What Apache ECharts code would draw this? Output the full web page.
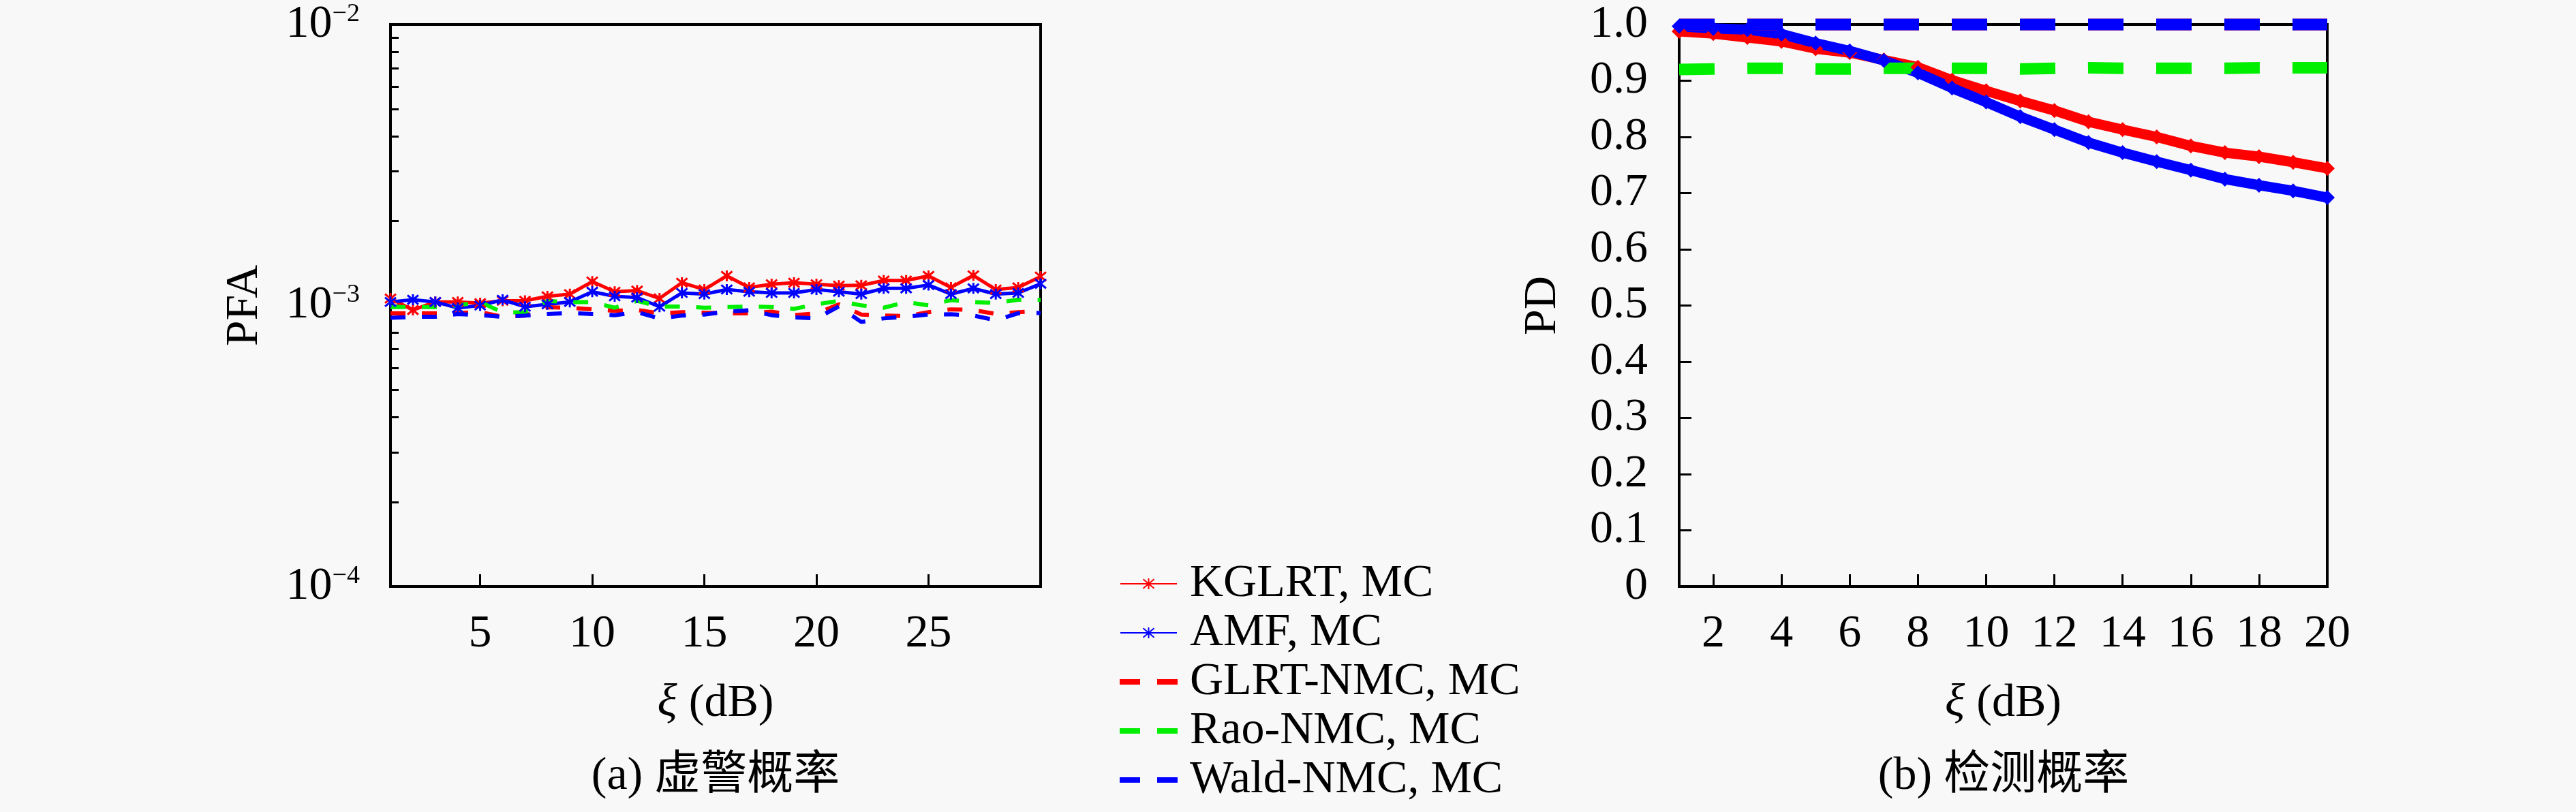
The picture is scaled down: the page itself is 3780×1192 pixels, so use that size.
<!DOCTYPE html>
<html>
<head>
<meta charset="utf-8">
<title>PFA / PD</title>
<script src="https://cdn.jsdelivr.net/npm/echarts@6/dist/echarts.min.js"></script>
<style>
html, body { margin: 0; padding: 0; background: #f8f8f8; }
#main { width: 3780px; height: 1192px; }
</style>
</head>
<body>
<div id="main"></div>
<script>
// ---- data: (a) false alarm probability ----
var snrA = [1, 2, 3, 4, 5, 6, 7, 8, 9, 10, 11, 12, 13, 14, 15, 16, 17, 18, 19, 20, 21, 22, 23, 24, 25, 26, 27, 28, 29, 30];
var pfaKGLRT = [1.059e-3, 0.964e-3, 1.03e-3, 1.03e-3, 1.02e-3, 1.04e-3, 1.04e-3, 1.078e-3, 1.098e-3, 1.217e-3,
  1.12e-3, 1.13e-3, 1.06e-3, 1.206e-3, 1.14e-3, 1.275e-3, 1.16e-3, 1.19e-3, 1.205e-3, 1.19e-3,
  1.177e-3, 1.18e-3, 1.228e-3, 1.228e-3, 1.275e-3, 1.16e-3, 1.28e-3, 1.14e-3, 1.16e-3, 1.268e-3];
var pfaAMF = [1.03e-3, 1.048e-3, 1.03e-3, 0.98e-3, 1.0e-3, 1.048e-3, 0.99e-3, 1.01e-3, 1.03e-3, 1.12e-3,
  1.078e-3, 1.068e-3, 0.99e-3, 1.109e-3, 1.098e-3, 1.14e-3, 1.12e-3, 1.109e-3, 1.109e-3, 1.14e-3,
  1.12e-3, 1.098e-3, 1.151e-3, 1.151e-3, 1.183e-3, 1.098e-3, 1.151e-3, 1.098e-3, 1.109e-3, 1.195e-3];
var pfaGLRTNMC = [0.938e-3, 0.938e-3, 0.938e-3, 0.941e-3, 0.947e-3, 0.912e-3, 0.921e-3, 0.986e-3, 0.982e-3, 0.969e-3,
  0.958e-3, 0.964e-3, 0.938e-3, 0.947e-3, 0.943e-3, 0.938e-3, 0.938e-3, 0.951e-3, 0.924e-3, 0.938e-3,
  1.01e-3, 0.929e-3, 0.921e-3, 0.917e-3, 0.947e-3, 0.969e-3, 0.964e-3, 0.933e-3, 0.947e-3, 0.955e-3];
var pfaRaoNMC = [0.988e-3, 0.988e-3, 0.988e-3, 1.001e-3, 1.029e-3, 0.945e-3, 0.947e-3, 1.039e-3, 1.029e-3, 1.029e-3,
  0.982e-3, 1.039e-3, 0.992e-3, 0.992e-3, 0.982e-3, 0.988e-3, 0.992e-3, 0.988e-3, 0.973e-3, 1.01e-3,
  1.039e-3, 1.001e-3, 0.982e-3, 1.029e-3, 1.001e-3, 1.045e-3, 1.029e-3, 1.02e-3, 1.049e-3, 1.049e-3];
var pfaWaldNMC = [0.904e-3, 0.911e-3, 0.912e-3, 0.933e-3, 0.924e-3, 0.912e-3, 0.921e-3, 0.933e-3, 0.941e-3, 0.933e-3,
  0.924e-3, 0.947e-3, 0.9e-3, 0.921e-3, 0.929e-3, 0.951e-3, 0.962e-3, 0.924e-3, 0.907e-3, 0.9e-3,
  0.992e-3, 0.874e-3, 0.9e-3, 0.912e-3, 0.929e-3, 0.931e-3, 0.921e-3, 0.887e-3, 0.938e-3, 0.941e-3];

// ---- data: (b) detection probability ----
var snrB = [1, 2, 3, 4, 5, 6, 7, 8, 9, 10, 11, 12, 13, 14, 15, 16, 17, 18, 19, 20];
var pdKGLRT = [0.988, 0.984, 0.977, 0.97, 0.957, 0.95, 0.937, 0.924, 0.901, 0.882,
  0.864, 0.847, 0.827, 0.813, 0.8, 0.784, 0.772, 0.765, 0.755, 0.744];
var pdAMF = [0.997, 0.993, 0.991, 0.983, 0.967, 0.953, 0.936, 0.914, 0.887, 0.862,
  0.836, 0.813, 0.79, 0.772, 0.756, 0.741, 0.725, 0.714, 0.704, 0.692];
var pdGLRTNMC = [1, 1, 1, 1, 1, 1, 1, 1, 1, 1, 1, 1, 1, 1, 1, 1, 1, 1, 1, 1];
var pdRaoNMC = [0.92, 0.921, 0.922, 0.922, 0.921, 0.921, 0.922, 0.922, 0.922, 0.922,
  0.921, 0.922, 0.923, 0.922, 0.922, 0.922, 0.922, 0.923, 0.923, 0.923];
var pdWaldNMC = [1, 1, 1, 1, 1, 1, 1, 1, 1, 1, 1, 1, 1, 1, 1, 1, 1, 1, 1, 1];

// ---- names / ticks ----
var names = ['KGLRT, MC', 'AMF, MC', 'GLRT-NMC, MC', 'Rao-NMC, MC', 'Wald-NMC, MC'];
var dashedNames = ['GLRT-NMC, MC', 'Rao-NMC, MC', 'Wald-NMC, MC'];
var xTicksA = [5, 10, 15, 20, 25];
var xTicksB = [2, 4, 6, 8, 10, 12, 14, 16, 18, 20];
var pfaLabels = [1e-4, 1e-3, 1e-2];
var pfaTicks = [1e-4, 2e-4, 3e-4, 4e-4, 5e-4, 6e-4, 7e-4, 8e-4, 9e-4,
  1e-3, 2e-3, 3e-3, 4e-3, 5e-3, 6e-3, 7e-3, 8e-3, 9e-3, 1e-2];

var FONT = '"Liberation Serif", "DejaVu Serif", "Noto Sans CJK SC", serif';
var FS = 68;
var RED = '#ff0000', BLUE = '#0000ff', GREEN = '#00ee00';
var STAR = 'path://M0,0L10,10M10,0L0,10M5,-1L5,11';
var DASH_ICON = 'path://M0,0H28V6H0ZM55,0H83V6H55Z';

function pairs(xs, ys) {
  return xs.map(function (x, i) { return [x, ys[i]]; });
}

var axisLine = { show: true, lineStyle: { color: '#000', width: 4 } };
var tickStyle = { color: '#000', width: 3 };
var labelStyle = { color: '#000', fontSize: FS, fontFamily: FONT };
var nameStyle = {
  color: '#000', fontSize: FS, fontFamily: FONT,
  rich: { i: { fontStyle: 'italic', fontSize: FS, fontFamily: FONT } }
};

var chart = echarts.init(document.getElementById('main'));

function lineA(name, data, color, dashed) {
  var s = {
    name: name, type: 'line', xAxisIndex: 0, yAxisIndex: 0,
    data: pairs(snrA, data), animation: false,
    lineStyle: { color: color, width: dashed ? 6 : 5, type: dashed ? [22, 24] : 'solid' },
    itemStyle: { color: color, borderColor: color, borderWidth: 3 }
  };
  if (dashed) {
    s.symbol = 'none';
  } else {
    s.symbol = STAR;
    s.symbolSize = 16;
    s.itemStyle.color = 'rgba(0,0,0,0)';
  }
  return s;
}

function lineB(name, data, color, dashed) {
  var s = {
    name: name, type: 'line', xAxisIndex: 1, yAxisIndex: 1,
    data: pairs(snrB, data), animation: false, clip: false,
    lineStyle: { color: color, width: dashed ? 17 : 15, type: dashed ? [52, 48] : 'solid' },
    itemStyle: { color: color }
  };
  if (dashed) {
    s.symbol = 'none';
  } else {
    s.symbol = 'diamond';
    s.symbolSize = 22;
  }
  return s;
}

var legendData = names.map(function (n) {
  return dashedNames.indexOf(n) >= 0 ? { name: n, icon: DASH_ICON } : { name: n };
});

var option = {
  backgroundColor: '#f8f8f8',
  textStyle: { fontFamily: FONT },
  grid: [
    { left: 573, top: 36, width: 954, height: 825, show: true, borderColor: '#000', borderWidth: 4, backgroundColor: 'rgba(0,0,0,0)' },
    { left: 2464, top: 36, width: 951, height: 825, show: true, borderColor: '#000', borderWidth: 4, backgroundColor: 'rgba(0,0,0,0)' }
  ],
  legend: {
    data: legendData,
    orient: 'vertical',
    left: 1638, top: 818,
    itemWidth: 83, itemHeight: 20, itemGap: 4,
    textStyle: { color: '#000', fontSize: FS, fontFamily: FONT, lineHeight: 68, padding: [0, 0, 0, 14] },
    selectedMode: false
  },
  xAxis: [
    {
      gridIndex: 0, type: 'value', min: 1, max: 30,
      name: '{i|ξ} (dB)', nameLocation: 'middle', nameGap: 138, nameTextStyle: nameStyle,
      axisLine: axisLine,
      axisTick: { inside: true, length: 18, customValues: xTicksA, lineStyle: tickStyle },
      axisLabel: Object.assign({ margin: 36, customValues: xTicksA }, labelStyle),
      splitLine: { show: false }
    },
    {
      gridIndex: 1, type: 'value', min: 1, max: 20,
      name: '{i|ξ} (dB)', nameLocation: 'middle', nameGap: 138, nameTextStyle: nameStyle,
      axisLine: axisLine,
      axisTick: { inside: true, length: 18, customValues: xTicksB, lineStyle: tickStyle },
      axisLabel: Object.assign({ margin: 36, customValues: xTicksB }, labelStyle),
      splitLine: { show: false }
    }
  ],
  yAxis: [
    {
      gridIndex: 0, type: 'log', logBase: 10, min: 1e-4, max: 1e-2,
      name: 'PFA', nameLocation: 'middle', nameGap: 180, nameTextStyle: nameStyle,
      axisLine: axisLine,
      axisTick: { inside: true, length: 12, customValues: pfaTicks, lineStyle: tickStyle },
      axisLabel: {
        margin: 45, customValues: pfaLabels,
        formatter: function (v) {
          var e = Math.round(Math.log(v) / Math.LN10);
          return '{b|10}{s|\u2212' + Math.abs(e) + '}';
        },
        rich: {
          b: { fontSize: FS, lineHeight: FS, fontFamily: FONT, color: '#000' },
          s: { fontSize: 38, lineHeight: 38, fontFamily: FONT, color: '#000', verticalAlign: 'top' }
        }
      },
      splitLine: { show: false }
    },
    {
      gridIndex: 1, type: 'value', min: 0, max: 1, interval: 0.1,
      name: 'PD', nameLocation: 'middle', nameGap: 166, nameTextStyle: nameStyle,
      axisLine: axisLine,
      axisTick: { inside: true, length: 18, lineStyle: tickStyle },
      axisLabel: Object.assign({
        margin: 46,
        formatter: function (v) { return v === 0 ? '0' : v.toFixed(1); }
      }, labelStyle),
      splitLine: { show: false }
    }
  ],
  graphic: [
    { type: 'text', x: 1050, y: 1140, style: { text: '(a) 虚警概率', font: FS + 'px ' + FONT, fill: '#000', align: 'center', verticalAlign: 'middle' } },
    { type: 'text', x: 2940, y: 1140, style: { text: '(b) 检测概率', font: FS + 'px ' + FONT, fill: '#000', align: 'center', verticalAlign: 'middle' } }
  ],
  series: [
    lineA(names[0], pfaKGLRT, RED, false),
    lineA(names[1], pfaAMF, BLUE, false),
    lineA(names[2], pfaGLRTNMC, RED, true),
    lineA(names[3], pfaRaoNMC, GREEN, true),
    lineA(names[4], pfaWaldNMC, BLUE, true),
    lineB(names[0], pdKGLRT, RED, false),
    lineB(names[1], pdAMF, BLUE, false),
    lineB(names[2], pdGLRTNMC, RED, true),
    lineB(names[3], pdRaoNMC, GREEN, true),
    lineB(names[4], pdWaldNMC, BLUE, true)
  ]
};

chart.setOption(option);
</script>
</body>
</html>
